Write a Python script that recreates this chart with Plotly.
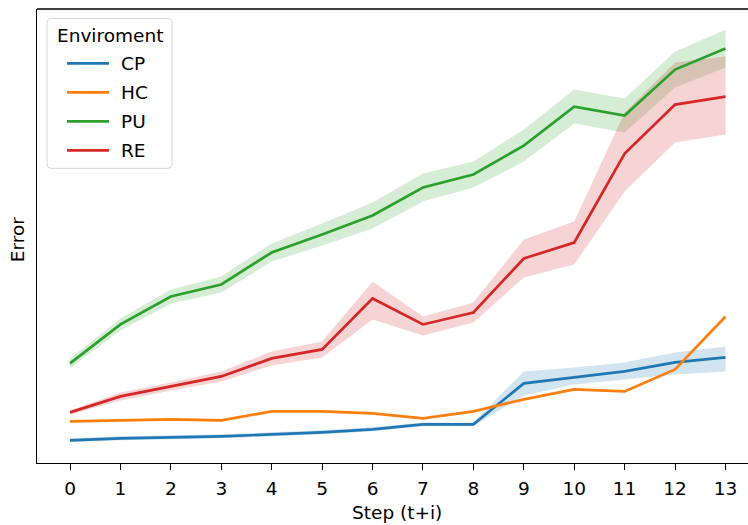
import plotly.graph_objects as go

# ---------------- data ----------------
steps = list(range(14))
tick_labels = [str(s) for s in steps]
series_names = ["CP", "HC", "PU", "RE"]

cp_mean = [0.22, 0.24, 0.25, 0.26, 0.28, 0.30, 0.33, 0.38, 0.38, 0.79, 0.85, 0.91, 1.00, 1.05]
cp_hi   = [0.24, 0.26, 0.27, 0.28, 0.30, 0.32, 0.35, 0.40, 0.40, 0.91, 0.95, 1.00, 1.10, 1.16]
cp_lo   = [0.20, 0.22, 0.23, 0.24, 0.26, 0.28, 0.31, 0.36, 0.36, 0.67, 0.78, 0.83, 0.88, 0.91]

hc_mean = [0.41, 0.42, 0.43, 0.42, 0.51, 0.51, 0.49, 0.44, 0.51, 0.63, 0.73, 0.71, 0.93, 1.46]
hc_hi   = [0.42, 0.43, 0.44, 0.43, 0.52, 0.52, 0.50, 0.45, 0.52, 0.64, 0.74, 0.72, 0.94, 1.47]
hc_lo   = [0.40, 0.41, 0.42, 0.41, 0.50, 0.50, 0.48, 0.43, 0.50, 0.62, 0.72, 0.70, 0.92, 1.45]

pu_mean = [0.99, 1.38, 1.66, 1.78, 2.10, 2.28, 2.47, 2.75, 2.88, 3.17, 3.56, 3.47, 3.93, 4.14]
pu_hi   = [1.04, 1.44, 1.73, 1.86, 2.19, 2.39, 2.60, 2.89, 3.01, 3.33, 3.73, 3.64, 4.11, 4.33]
pu_lo   = [0.94, 1.32, 1.59, 1.70, 2.01, 2.17, 2.34, 2.61, 2.75, 3.01, 3.39, 3.30, 3.75, 3.95]

re_mean = [0.50, 0.66, 0.76, 0.86, 1.04, 1.13, 1.64, 1.38, 1.50, 2.04, 2.20, 3.09, 3.58, 3.66]
re_hi   = [0.52, 0.70, 0.80, 0.91, 1.11, 1.21, 1.81, 1.46, 1.60, 2.23, 2.41, 3.50, 4.00, 4.06]
re_lo   = [0.48, 0.62, 0.72, 0.81, 0.97, 1.05, 1.43, 1.27, 1.40, 1.85, 1.98, 2.71, 3.20, 3.28]

means = [cp_mean, hc_mean, pu_mean, re_mean]
his = [cp_hi, hc_hi, pu_hi, re_hi]
los = [cp_lo, hc_lo, pu_lo, re_lo]

colors = ["#1f77b4", "#ff7f0e", "#2ca02c", "#d62728"]
band_colors = ["rgba(31,119,180,0.2)", "rgba(255,127,14,0.2)",
               "rgba(44,160,44,0.2)", "rgba(214,39,40,0.2)"]

# ---------------- layout geometry ----------------
W, H = 748, 525
L, R, T, B = 37, 0, 8.5, 62
pw, ph = W - L - R, H - T - B
FONT = "DejaVu Sans"
FS = 18.5


def px(x):
    return (x - L) / pw


def py(y):
    return (H - B - y) / ph


fig = go.Figure()

# confidence bands (below lines)
for name, hi, lo, bc in zip(series_names, his, los, band_colors):
    fig.add_trace(go.Scatter(
        x=steps + steps[::-1], y=hi + lo[::-1],
        fill="toself", fillcolor=bc, line=dict(width=0),
        mode="lines", hoverinfo="skip", showlegend=False, name=name + " CI"))

# mean lines
for name, m, c in zip(series_names, means, colors):
    fig.add_trace(go.Scatter(x=steps, y=m, mode="lines", name=name,
                             line=dict(color=c, width=2.7), showlegend=False))

# y range like matplotlib autoscale (5% margins)
ymin = min(min(l) for l in los)
ymax = max(max(h) for h in his)
pad = 0.05 * (ymax - ymin)
xmin = -0.655
xmax = xmin + pw * (13.65 - (-0.65)) / 721.0

fig.update_layout(
    width=W, height=H,
    margin=dict(l=L, r=R, t=T, b=B, pad=0),
    paper_bgcolor="white", plot_bgcolor="white",
    font=dict(family=FONT, size=FS, color="#000000"),
    xaxis=dict(range=[xmin, xmax], tickmode="array", tickvals=steps, ticktext=tick_labels,
               showgrid=False, zeroline=False, showline=True, linecolor="#000000", linewidth=1.3,
               ticks="outside", ticklen=6, tickwidth=1.3, tickcolor="#000000",
               ticklabelstandoff=3,
               tickfont=dict(family=FONT, size=FS, color="#000000")),
    yaxis=dict(range=[ymin - pad, ymax + pad], showticklabels=False, ticks="",
               showgrid=False, zeroline=False, showline=True, linecolor="#000000", linewidth=1.3),
    showlegend=False,
)

# top spine (right spine falls outside the picture)
fig.add_shape(type="line", xref="paper", yref="paper", x0=0, x1=1, y0=1, y1=1,
              line=dict(color="#000000", width=1.3))

# axis titles
fig.add_annotation(text="Step (t+i)", xref="paper", yref="paper",
                   x=px(397.5), y=py(513), showarrow=False,
                   font=dict(family=FONT, size=FS, color="#000000"),
                   xanchor="center", yanchor="middle")
fig.add_annotation(text="Error", xref="paper", yref="paper",
                   x=px(17), y=py(240), showarrow=False, textangle=-90,
                   font=dict(family=FONT, size=FS, color="#000000"),
                   xanchor="center", yanchor="middle")

# legend (drawn to match matplotlib's legend box)
x0, x1, y0, y1, r = 47, 172, 18, 168, 4
path = (f"M {px(x0 + r)} {py(y0)} L {px(x1 - r)} {py(y0)} "
        f"Q {px(x1)} {py(y0)} {px(x1)} {py(y0 + r)} L {px(x1)} {py(y1 - r)} "
        f"Q {px(x1)} {py(y1)} {px(x1 - r)} {py(y1)} L {px(x0 + r)} {py(y1)} "
        f"Q {px(x0)} {py(y1)} {px(x0)} {py(y1 - r)} L {px(x0)} {py(y0 + r)} "
        f"Q {px(x0)} {py(y0)} {px(x0 + r)} {py(y0)} Z")
fig.add_shape(type="path", path=path, xref="paper", yref="paper",
              fillcolor="rgba(255,255,255,0.8)", line=dict(color="#d6d6d6", width=1))
fig.add_annotation(text="Enviroment", xref="paper", yref="paper",
                   x=px((x0 + x1) / 2), y=py(35), showarrow=False,
                   font=dict(family=FONT, size=FS, color="#000000"),
                   xanchor="center", yanchor="middle")
item_y = [63, 92, 121, 150]
for name, c, yy in zip(series_names, colors, item_y):
    fig.add_shape(type="line", xref="paper", yref="paper",
                  x0=px(67), x1=px(109), y0=py(yy), y1=py(yy),
                  line=dict(color=c, width=2.7))
    fig.add_annotation(text=name, xref="paper", yref="paper",
                       x=px(119), y=py(yy), showarrow=False,
                       font=dict(family=FONT, size=FS, color="#000000"),
                       xanchor="left", yanchor="middle")

fig.write_html("out.html", config={"displayModeBar": False},
               post_script="document.body.style.margin='0';")
